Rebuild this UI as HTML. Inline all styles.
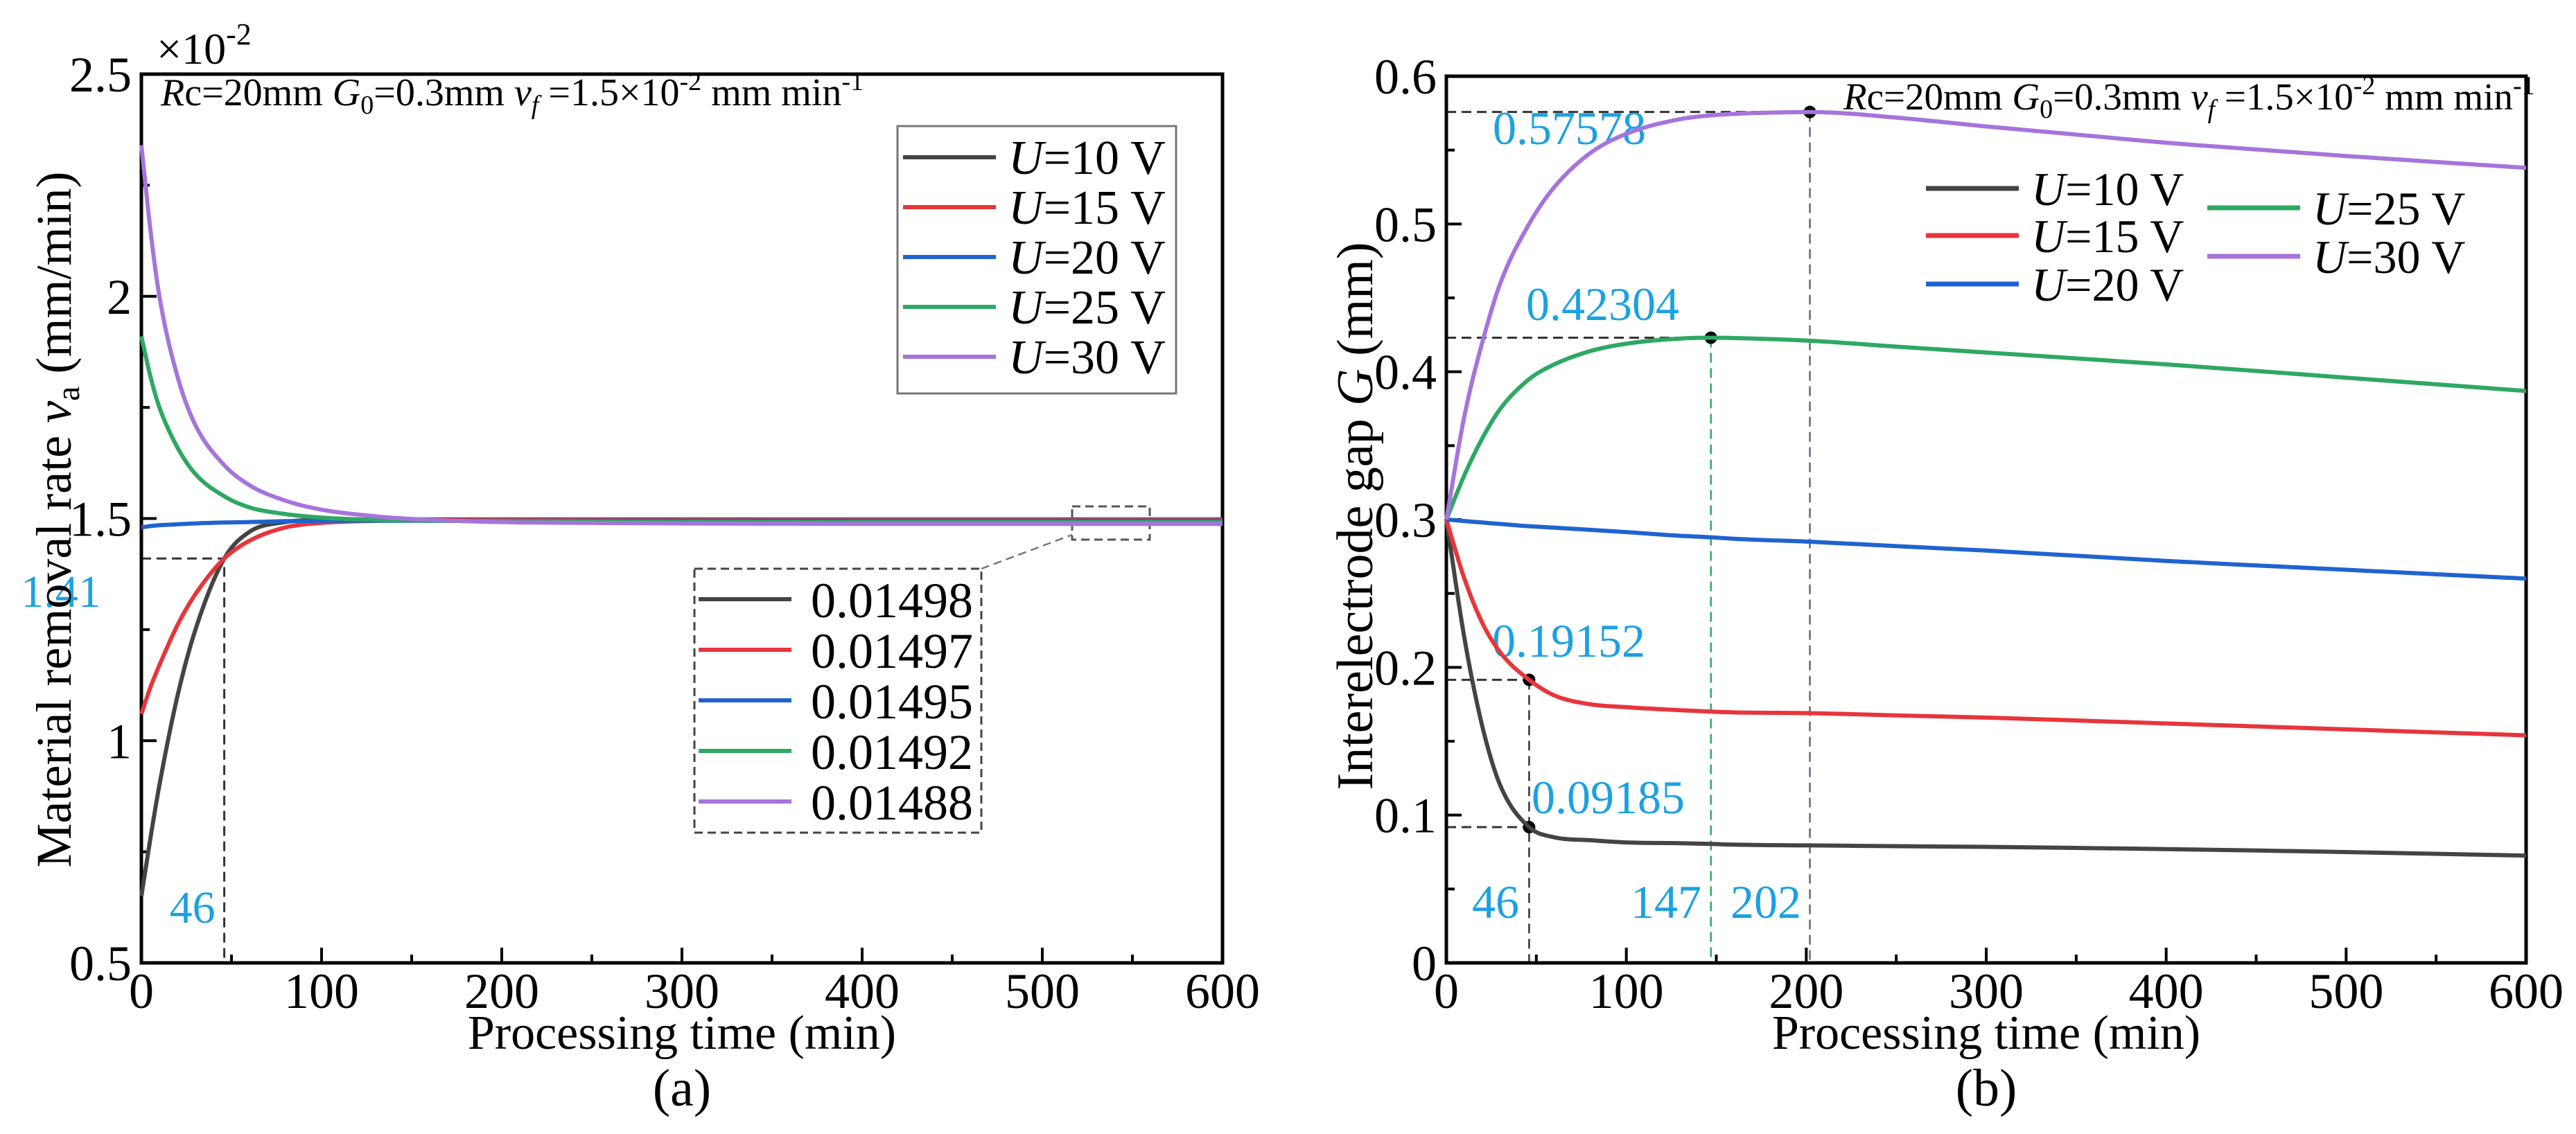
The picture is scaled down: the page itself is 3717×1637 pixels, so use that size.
<!DOCTYPE html>
<html><head><meta charset="utf-8"><style>
html,body{margin:0;padding:0;background:#fff}
svg{display:block;font-family:"Liberation Serif",serif}
</style></head><body>
<svg id="fig" width="3717" height="1637" viewBox="0 0 3717 1637" xmlns="http://www.w3.org/2000/svg">
<rect width="3717" height="1637" fill="#fff"/>
</svg>
<script>
// ---- Panel (a) data: material removal rate (x10^-2 mm/min)
const tA = [0,5,10,20,30,46,60,80,100,130,160,200,250,300,400,500,600];
const a10 = [0.65,0.78,0.9,1.1,1.25,1.41,1.47,1.492,1.497,1.498,1.498,1.498,1.498,1.498,1.498,1.498,1.498];
const a15 = [1.06,1.12,1.17,1.26,1.33,1.41,1.45,1.48,1.49,1.495,1.497,1.497,1.497,1.497,1.497,1.497,1.497];
const a20 = [1.48,1.483,1.485,1.487,1.489,1.491,1.492,1.494,1.495,1.495,1.495,1.495,1.495,1.495,1.495,1.495,1.495];
const a25 = [1.91,1.82,1.75,1.66,1.6,1.55,1.525,1.51,1.502,1.497,1.495,1.494,1.493,1.492,1.492,1.492,1.492];
const a30 = [2.34,2.15,2.0,1.82,1.71,1.62,1.575,1.54,1.52,1.505,1.497,1.492,1.49,1.489,1.488,1.488,1.488];
const legendVals = ["0.01498","0.01497","0.01495","0.01492","0.01488"];
// ---- Panel (b) data: interelectrode gap (mm)
const tB = [0,10,20,30,46,60,80,100,130,147,160,202,250,300,400,500,600];
const b10 = [0.3,0.22,0.16,0.12,0.09185,0.085,0.083,0.0815,0.081,0.0805,0.080,0.0795,0.079,0.0785,0.077,0.075,0.0726];
const b15 = [0.3,0.26,0.23,0.21,0.19152,0.181,0.175,0.173,0.171,0.170,0.1695,0.169,0.1675,0.166,0.162,0.158,0.154];
const b20 = [0.3,0.299,0.298,0.297,0.2955,0.2945,0.293,0.2915,0.289,0.288,0.287,0.285,0.282,0.279,0.272,0.266,0.26];
const b25 = [0.3,0.33,0.355,0.375,0.395,0.405,0.414,0.419,0.4225,0.42304,0.4228,0.421,0.417,0.413,0.405,0.396,0.387];
const b30 = [0.3,0.37,0.42,0.46,0.5,0.525,0.548,0.561,0.571,0.5735,0.5745,0.57578,0.572,0.566,0.555,0.546,0.538];
const xTicks = [0,100,200,300,400,500,600];
const yTicksA = ["0.5","1","1.5","2","2.5"];
const yTicksB = ["0","0.1","0.2","0.3","0.4","0.5","0.6"];
const labels = ["U=10 V","U=15 V","U=20 V","U=25 V","U=30 V"];
const colors = ["#444444","#e8353b","#1f63d0","#2ea862","#a674dc"];

const NS="http://www.w3.org/2000/svg";
const svg=document.getElementById('fig');
function mk(tag,attrs,parent){const e=document.createElementNS(NS,tag);for(const k in attrs)e.setAttribute(k,attrs[k]);(parent||svg).appendChild(e);return e;}
function txt(s,attrs,parent){const e=mk('text',attrs,parent);e.textContent=s;return e;}

const AX0=204,AX1=1764,AY0=1390,AY1=107;
const xA=t=>AX0+(AX1-AX0)*t/600;
const yA=v=>AY0-(AY0-AY1)*(v-0.5)/2.0;
const BX0=2087,BX1=3645,BY0=1390,BY1=110;
const xB=t=>BX0+(BX1-BX0)*t/600;
const yB=v=>BY0-(BY0-BY1)*v/0.6;

function smoothPath(px,py){
  const n=px.length,d=[],m=[];
  for(let i=0;i<n-1;i++)d.push((py[i+1]-py[i])/(px[i+1]-px[i]));
  m[0]=d[0];m[n-1]=d[n-2];
  for(let i=1;i<n-1;i++){m[i]=(d[i-1]*d[i]<=0)?0:(d[i-1]+d[i])/2;}
  for(let i=0;i<n-1;i++){
    if(d[i]===0){m[i]=0;m[i+1]=0;continue;}
    const a=m[i]/d[i],b=m[i+1]/d[i],s=a*a+b*b;
    if(s>9){const t=3/Math.sqrt(s);m[i]=t*a*d[i];m[i+1]=t*b*d[i];}
  }
  let p='M'+px[0].toFixed(1)+','+py[0].toFixed(1);
  for(let i=0;i<n-1;i++){
    const h=(px[i+1]-px[i])/3;
    p+='C'+(px[i]+h).toFixed(1)+','+(py[i]+m[i]*h).toFixed(1)+' '+(px[i+1]-h).toFixed(1)+','+(py[i+1]-m[i+1]*h).toFixed(1)+' '+px[i+1].toFixed(1)+','+py[i+1].toFixed(1);
  }
  return p;
}
function series(ts,vs,fx,fy,color,name){
  const p=mk('path',{d:smoothPath(ts.map(fx),vs.map(fy)),fill:'none',stroke:color,'stroke-width':6,'stroke-linejoin':'round'});
  
  
}
const annHTML='<tspan font-style="italic">R</tspan>c=20mm <tspan font-style="italic">G</tspan><tspan font-size="38" dy="12">0</tspan><tspan dy="-12">=0.3mm </tspan><tspan font-style="italic">v</tspan><tspan font-style="italic" font-size="38" dy="12">f</tspan><tspan dy="-12"> =1.5×10</tspan><tspan font-size="38" dy="-22">-2</tspan><tspan dy="22"> mm min</tspan><tspan font-size="38" dy="-22">-1</tspan>';

// ================= Panel A =================
const gA=mk('g',{});


xTicks.forEach(t=>{
  mk('line',{x1:xA(t),x2:xA(t),y1:AY0,y2:AY0-22,stroke:'#000','stroke-width':4},gA);
  if(t<600) mk('line',{x1:xA(t+50),x2:xA(t+50),y1:AY0,y2:AY0-12,stroke:'#000','stroke-width':4},gA);
  const l=txt(String(t),{x:xA(t),y:1455,'font-size':72,'text-anchor':'middle'},gA);
  
  
});
yTicksA.forEach(s=>{
  const v=parseFloat(s);
  mk('line',{x1:AX0,x2:AX0+22,y1:yA(v),y2:yA(v),stroke:'#000','stroke-width':4},gA);
  if(v<2.5) mk('line',{x1:AX0,x2:AX0+12,y1:yA(v+0.25),y2:yA(v+0.25),stroke:'#000','stroke-width':4},gA);
  const l=txt(s,{x:AX0-14,y:yA(v)+25,'font-size':72,'text-anchor':'end'},gA);
  
  
});
const mult=txt('×10',{x:226,y:92,'font-size':64},gA);


mk('tspan',{dy:-28,'font-size':44},mult).textContent='-2';
const annA=txt('',{x:232,y:152,'font-size':56},gA);


annA.innerHTML=annHTML;
[a10,a15,a20,a25,a30].forEach((s,i)=>series(tA,s,xA,yA,colors[i],'series-a-u'+(10+5*i)));
mk('path',{d:`M${AX0},${yA(1.41)}H${xA(46)}V${AY0}`,fill:'none',stroke:'#333','stroke-width':3,'stroke-dasharray':'14,8'},gA);
const l141=txt('1.41',{x:88,y:yA(1.41)+70,'font-size':66,'fill':'#1ba1e2','text-anchor':'middle'},gA);


const l46=txt('46',{x:xA(46)-46,y:1332,'font-size':66,'fill':'#1ba1e2','text-anchor':'middle'},gA);


mk('rect',{x:AX0,y:AY1,width:AX1-AX0,height:AY0-AY1,fill:'none',stroke:'#000','stroke-width':5},gA);
const legA=mk('g',{},gA);


mk('rect',{x:1295,y:182,width:402,height:386,fill:'#fff',stroke:'#777','stroke-width':3},legA);
labels.forEach((s,i)=>{
  const y=227+72*i;
  mk('line',{x1:1303,x2:1437,y1:y,y2:y,stroke:colors[i],'stroke-width':6},legA);
  const t=txt('',{x:1455,y:y+24,'font-size':70},legA);
  
  
  t.innerHTML='<tspan font-style="italic">U</tspan>'+s.slice(1);
});
mk('rect',{x:1547,y:731,width:112,height:48,fill:'none',stroke:'#555','stroke-width':3,'stroke-dasharray':'12,7'},gA);
mk('line',{x1:1416,y1:821,x2:1547,y2:772,stroke:'#777','stroke-width':2.5,'stroke-dasharray':'12,7'},gA);
const vb=mk('g',{},gA);


mk('rect',{x:1002,y:821,width:414,height:381,fill:'#fff',stroke:'#444','stroke-width':3,'stroke-dasharray':'12,7'},vb);
legendVals.forEach((s,i)=>{
  const y=865+73*i;
  mk('line',{x1:1008,x2:1142,y1:y,y2:y,stroke:colors[i],'stroke-width':6},vb);
  const t=txt(s,{x:1170,y:y+26,'font-size':72},vb);
  
  
});
const xtA=txt('Processing time (min)',{x:(AX0+AX1)/2,y:1514,'font-size':70,'text-anchor':'middle'},gA);


const capA=txt('(a)',{x:(AX0+AX1)/2,y:1596,'font-size':76,'text-anchor':'middle'},gA);


const ytA=txt('',{x:0,y:0,'font-size':72,'text-anchor':'middle',transform:'translate(102,750) rotate(-90)'},gA);


ytA.innerHTML='Material removal rate <tspan font-style="italic">v</tspan><tspan font-size="48" dy="12">a</tspan><tspan dy="-12"> (mm/min)</tspan>';

// ================= Panel B =================
const gB=mk('g',{});


xTicks.forEach(t=>{
  mk('line',{x1:xB(t),x2:xB(t),y1:BY0,y2:BY0-22,stroke:'#000','stroke-width':4},gB);
  if(t<600) mk('line',{x1:xB(t+50),x2:xB(t+50),y1:BY0,y2:BY0-12,stroke:'#000','stroke-width':4},gB);
  const l=txt(String(t),{x:xB(t),y:1455,'font-size':72,'text-anchor':'middle'},gB);
  
  
});
yTicksB.forEach(s=>{
  const v=parseFloat(s);
  mk('line',{x1:BX0,x2:BX0+22,y1:yB(v),y2:yB(v),stroke:'#000','stroke-width':4},gB);
  if(v<0.6) mk('line',{x1:BX0,x2:BX0+12,y1:yB(v+0.05),y2:yB(v+0.05),stroke:'#000','stroke-width':4},gB);
  const l=txt(s,{x:BX0-14,y:yB(v)+25,'font-size':72,'text-anchor':'end'},gB);
  
  
});
[b10,b15,b20,b25,b30].forEach((s,i)=>series(tB,s,xB,yB,colors[i],'series-b-u'+(10+5*i)));
const pk=[[202,0.57578,'#667',true],[147,0.42304,'#2ea862',true],[46,0.19152,'#333',true],[46,0.09185,'#333',false]];
pk.forEach(p=>{
  mk('path',{d:`M${BX0},${yB(p[1])}H${xB(p[0])}`,fill:'none',stroke:'#333','stroke-width':3,'stroke-dasharray':'14,8'},gB);
  if(p[3]) mk('path',{d:`M${xB(p[0])},${yB(p[1])}V${BY0}`,fill:'none',stroke:p[2],'stroke-width':2.5,'stroke-dasharray':'14,8'},gB);
  mk('circle',{cx:xB(p[0]),cy:yB(p[1]),r:9,fill:'#000'},gB);
});
const annLabels=[['0.57578',2154,208],['0.42304',2202,462],['0.19152',2153,948],['0.09185',2210,1174],['46',2124,1325],['147',2353,1325],['202',2497,1325]];
annLabels.forEach(a=>{
  const t=txt(a[0],{x:a[1],y:a[2],'font-size':68,fill:'#1ba1e2'},gB);
  
  
});
mk('rect',{x:BX0,y:BY1,width:BX1-BX0,height:BY0-BY1,fill:'none',stroke:'#000','stroke-width':5},gB);
const annB=txt('',{x:2660,y:158,'font-size':55},gB);


annB.innerHTML=annHTML;
const legB=mk('g',{},gB);


const lpos=[[2779,272],[2779,340],[2779,410],[3185,300],[3185,370]];
labels.forEach((s,i)=>{
  const [x,y]=lpos[i];
  mk('line',{x1:x,x2:x+134,y1:y,y2:y,stroke:colors[i],'stroke-width':7},legB);
  const t=txt('',{x:x+152,y:y+24,'font-size':68},legB);
  
  
  t.innerHTML='<tspan font-style="italic">U</tspan>'+s.slice(1);
});
const xtB=txt('Processing time (min)',{x:(BX0+BX1)/2,y:1514,'font-size':70,'text-anchor':'middle'},gB);


const capB=txt('(b)',{x:(BX0+BX1)/2,y:1596,'font-size':76,'text-anchor':'middle'},gB);


const ytB=txt('',{x:0,y:0,'font-size':74,'text-anchor':'middle',transform:'translate(1980,745) rotate(-90)'},gB);


ytB.innerHTML='Interelectrode gap <tspan font-style="italic">G</tspan> (mm)';
</script>
</body></html>
